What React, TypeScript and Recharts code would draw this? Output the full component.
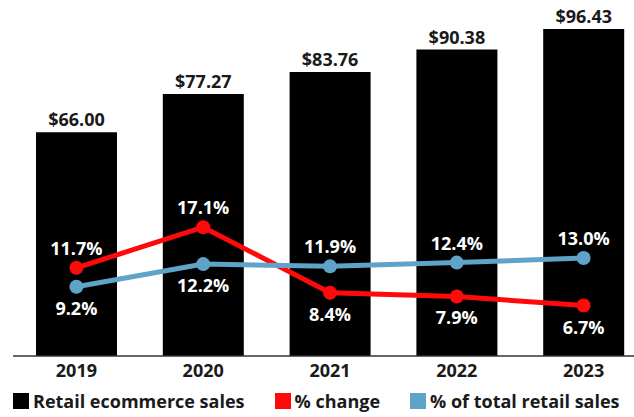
import {
  Bar,
  ComposedChart,
  LabelList,
  Line,
  XAxis,
  YAxis,
} from 'recharts';

const years = ['2019', '2020', '2021', '2022', '2023'];
const ecommerceSales = [66.0, 77.27, 83.76, 90.38, 96.43];
const pctChange = [11.7, 17.1, 8.4, 7.9, 6.7];
const pctOfTotal = [9.2, 12.2, 11.9, 12.4, 13.0];

const legendItems = [
  { label: 'Retail ecommerce sales', color: '#000000' },
  { label: '% change', color: '#ff0a0a' },
  { label: '% of total retail sales', color: '#5fa3c9' },
];

const FONT = '"Open Sans", Lato, sans-serif';
const RED = '#ff0a0a';
const BLUE = '#5fa3c9';

const data = years.map((year, i) => ({
  year,
  sales: ecommerceSales[i],
  change: pctChange[i],
  share: pctOfTotal[i],
}));

// put a label above the point when its series is the higher one there, below otherwise
function pctLabel(own: number[], other: number[]) {
  return (props: any) => {
    const { x, y, index, value } = props;
    const above = own[index] > other[index];
    return (
      <text
        x={x}
        y={above ? y - 20 : y + 21}
        fill="#ffffff"
        fontFamily={FONT}
        fontWeight={700}
        fontSize={18}
        textAnchor="middle"
        dominantBaseline="central"
      >
        {`${Number(value).toFixed(1)}%`}
      </text>
    );
  };
}

export default function App() {
  return (
    <div
      style={{
        position: 'absolute',
        left: 0,
        top: 0,
        width: 634,
        height: 417,
        overflow: 'hidden',
        background: '#fff',
      }}
    >
      <ComposedChart
        width={660}
        height={417}
        data={data}
        margin={{ top: 17, right: 13, bottom: 31, left: 13 }}
      >
        <XAxis
          dataKey="year"
          height={30}
          tickLine={false}
          axisLine={{ stroke: '#333', strokeWidth: 1.5 }}
          tick={{ fill: '#1a1a1a', fontSize: 18, fontWeight: 700, fontFamily: FONT }}
        />
        <YAxis yAxisId="sales" hide domain={[0, 100]} />
        <YAxis yAxisId="pct" hide orientation="right" domain={[0, 45]} />
        <Bar yAxisId="sales" dataKey="sales" fill="#000" barSize={81} isAnimationActive={false}>
          <LabelList
            dataKey="sales"
            position="top"
            offset={6}
            formatter={(v: any) => `$${Number(v).toFixed(2)}`}
            style={{ fill: '#1a1a1a', fontSize: 18, fontWeight: 700, fontFamily: FONT }}
          />
        </Bar>
        <Line
          yAxisId="pct"
          dataKey="change"
          stroke={RED}
          strokeWidth={5}
          dot={{ r: 7, fill: RED, stroke: RED, strokeWidth: 0 }}
          isAnimationActive={false}
        >
          <LabelList dataKey="change" content={pctLabel(pctChange, pctOfTotal)} />
        </Line>
        <Line
          yAxisId="pct"
          dataKey="share"
          stroke={BLUE}
          strokeWidth={5}
          dot={{ r: 7, fill: BLUE, stroke: BLUE, strokeWidth: 0 }}
          isAnimationActive={false}
        >
          <LabelList dataKey="share" content={pctLabel(pctOfTotal, pctChange)} />
        </Line>
      </ComposedChart>
      <div
        style={{
          position: 'absolute',
          left: 13,
          top: 389,
          display: 'flex',
          alignItems: 'center',
          gap: 30,
          fontFamily: FONT,
          fontWeight: 700,
          fontSize: 18,
          color: '#1a1a1a',
          whiteSpace: 'nowrap',
        }}
      >
        {legendItems.map((item) => (
          <div key={item.label} style={{ display: 'flex', alignItems: 'center', gap: 4 }}>
            <span style={{ width: 16, height: 16, background: item.color, display: 'inline-block' }} />
            <span>{item.label}</span>
          </div>
        ))}
      </div>
    </div>
  );
}
